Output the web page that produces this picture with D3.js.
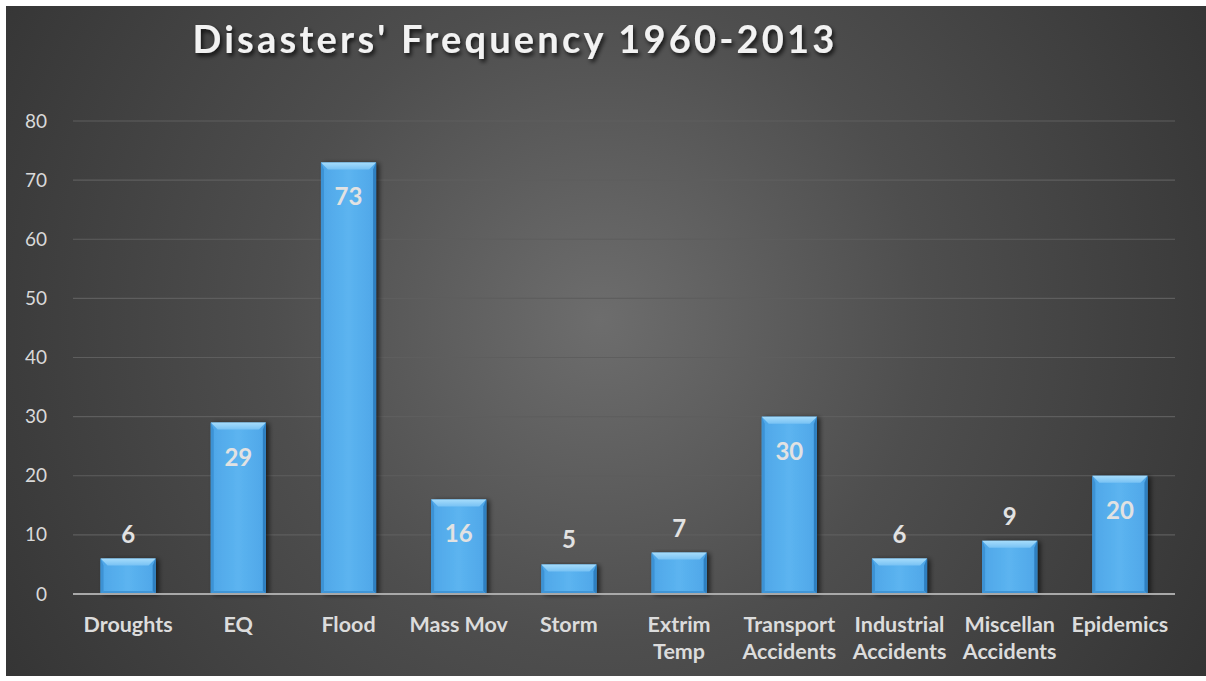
<!DOCTYPE html>
<html>
<head>
<meta charset="utf-8">
<script src="https://cdn.jsdelivr.net/npm/d3@7"></script>
<style>
  html, body { margin: 0; padding: 0; background: #ffffff; }
  svg { display: block; }
  text { font-family: Lato, "Open Sans", sans-serif; }
</style>
</head>
<body>
<svg id="chart" width="1206" height="681"></svg>
<script>
// Disaster counts by type, 1960-2013
const categories = ["Droughts", "EQ", "Flood", "Mass Mov", "Storm", "Extrim Temp",
  "Transport Accidents", "Industrial Accidents", "Miscellan Accidents", "Epidemics"];
const counts = [6, 29, 73, 16, 5, 7, 30, 6, 9, 20];
const yTicks = [0, 10, 20, 30, 40, 50, 60, 70, 80];
const title = "Disasters' Frequency 1960-2013";

const W = 1206, H = 681;
const svg = d3.select("#chart");
const defs = svg.append("defs");

// Chart panel background: soft radial glow on dark grey
const bg = defs.append("radialGradient").attr("id", "bgGrad")
  .attr("gradientUnits", "userSpaceOnUse")
  .attr("cx", 600).attr("cy", 320).attr("r", 720);
bg.append("stop").attr("offset", "0%").attr("stop-color", "#6d6d6d");
bg.append("stop").attr("offset", "45%").attr("stop-color", "#4e4e4e");
bg.append("stop").attr("offset", "100%").attr("stop-color", "#333333");

svg.append("rect").attr("x", 6).attr("y", 6).attr("width", W - 6).attr("height", H - 11)
  .attr("fill", "url(#bgGrad)");

// Bar gradients
const barGrad = defs.append("linearGradient").attr("id", "barGrad")
  .attr("x1", 0).attr("x2", 1).attr("y1", 0).attr("y2", 0);
barGrad.append("stop").attr("offset", "0%").attr("stop-color", "#4ea6e8");
barGrad.append("stop").attr("offset", "50%").attr("stop-color", "#5cb4f0");
barGrad.append("stop").attr("offset", "100%").attr("stop-color", "#4ea6e8");

const bevelGrad = defs.append("linearGradient").attr("id", "bevelGrad")
  .attr("x1", 0).attr("x2", 0).attr("y1", 0).attr("y2", 1);
bevelGrad.append("stop").attr("offset", "0%").attr("stop-color", "#a6dcfb");
bevelGrad.append("stop").attr("offset", "100%").attr("stop-color", "#78c2f4");

const shadow = defs.append("filter").attr("id", "barShadow")
  .attr("x", "-20%").attr("y", "-10%").attr("width", "150%").attr("height", "130%");
shadow.append("feGaussianBlur").attr("in", "SourceAlpha").attr("stdDeviation", 2.5);
shadow.append("feOffset").attr("dx", 3).attr("dy", 1).attr("result", "ob");
shadow.append("feComponentTransfer").append("feFuncA").attr("type", "linear").attr("slope", 0.6);
const m = shadow.append("feMerge");
m.append("feMergeNode");
m.append("feMergeNode").attr("in", "SourceGraphic");

const titleShadow = defs.append("filter").attr("id", "titleShadow")
  .attr("x", "-5%").attr("y", "-30%").attr("width", "110%").attr("height", "160%");
titleShadow.append("feDropShadow").attr("dx", 2).attr("dy", 3).attr("stdDeviation", 2)
  .attr("flood-color", "#000").attr("flood-opacity", 0.75);

// Scales
const x = d3.scaleBand().domain(categories).range([73, 1175])
  .paddingInner(0.5).paddingOuter(0.25);
const y = d3.scaleLinear().domain([0, 80]).range([594, 121]);

// Gridlines
svg.append("g").selectAll("line").data(yTicks.filter(d => d > 0)).join("line")
  .attr("x1", 73).attr("x2", 1175)
  .attr("y1", d => y(d)).attr("y2", d => y(d))
  .attr("stroke", "#5e5e5e").attr("stroke-width", 1.2);

// Y axis labels
const yAxis = svg.append("g").attr("transform", "translate(47,0)")
  .call(d3.axisLeft(y).tickValues(yTicks).tickSize(0).tickPadding(0));
yAxis.select(".domain").remove();
yAxis.selectAll("text")
  .attr("fill", "#d9d9d9").style("font-size", "19px")
  .style("font-family", "Lato, 'Open Sans', sans-serif");

// Bars with bevelled edges
const bars = svg.append("g").selectAll("g").data(categories).join("g")
  .attr("filter", "url(#barShadow)");
const bw = x.bandwidth();
bars.append("rect")
  .attr("x", d => x(d)).attr("y", (d, i) => y(counts[i]))
  .attr("width", bw).attr("height", (d, i) => y(0) - y(counts[i]))
  .attr("fill", "url(#barGrad)");
// top bevel (light)
bars.append("path")
  .attr("d", (d, i) => {
    const x0 = x(d), y0 = y(counts[i]), b = 7;
    return `M${x0},${y0}L${x0 + bw},${y0}L${x0 + bw - b},${y0 + b}L${x0 + b},${y0 + b}Z`;
  })
  .attr("fill", "url(#bevelGrad)");
// left / right bevels (shaded)
bars.append("path")
  .attr("d", (d, i) => {
    const x0 = x(d), y0 = y(counts[i]), y1 = y(0), b = 3;
    return `M${x0},${y0}L${x0 + b},${y0 + 7}L${x0 + b},${y1 - 3}L${x0},${y1}Z`;
  })
  .attr("fill", "#3d92d4");
bars.append("path")
  .attr("d", (d, i) => {
    const x1 = x(d) + bw, y0 = y(counts[i]), y1 = y(0), b = 3;
    return `M${x1},${y0}L${x1 - b},${y0 + 7}L${x1 - b},${y1 - 3}L${x1},${y1}Z`;
  })
  .attr("fill", "#2f7fc0");
// bottom bevel (darker)
bars.append("path")
  .attr("d", (d, i) => {
    const x0 = x(d), y1 = y(0), b = 3;
    return `M${x0},${y1}L${x0 + b},${y1 - b}L${x0 + bw - b},${y1 - b}L${x0 + bw},${y1}Z`;
  })
  .attr("fill", "#3f95d6");

// Baseline
svg.append("line").attr("x1", 73).attr("x2", 1175).attr("y1", y(0)).attr("y2", y(0))
  .attr("stroke", "#a9a9a9").attr("stroke-width", 2);

// Value labels: inside the top of tall bars, above short ones
svg.append("g").selectAll("text").data(categories).join("text")
  .attr("x", d => x(d) + bw / 2)
  .attr("y", (d, i) => counts[i] > 10 ? y(counts[i]) + 43 : y(counts[i]) - 16)
  .attr("text-anchor", "middle")
  .attr("fill", "#e2e2e2")
  .style("font-size", "24px").style("font-weight", "bold")
  .text((d, i) => counts[i]);

// Category labels, wrapped onto two lines when too wide
const catG = svg.append("g").selectAll("text").data(categories).join("text")
  .attr("x", d => x(d) + bw / 2)
  .attr("y", 632)
  .attr("text-anchor", "middle")
  .attr("fill", "#dcdcdc")
  .style("font-size", "21.5px").style("font-weight", "bold");
catG.each(function (d) {
  const t = d3.select(this);
  const words = d.split(" ");
  const lines = [];
  let cur = [];
  words.forEach(w => {
    const test = cur.concat(w).join(" ");
    t.text(test);
    if (cur.length && this.getComputedTextLength() > 108) {
      lines.push(cur.join(" "));
      cur = [w];
    } else {
      cur.push(w);
    }
  });
  lines.push(cur.join(" "));
  t.text(null);
  lines.forEach((l, k) => {
    t.append("tspan").attr("x", x(d) + bw / 2).attr("dy", k === 0 ? 0 : 27).text(l);
  });
});

// Title
svg.append("text")
  .attr("x", 515).attr("y", 53)
  .attr("text-anchor", "middle")
  .attr("fill", "#f2f2f2")
  .attr("filter", "url(#titleShadow)")
  .style("font-size", "38px").style("font-weight", "bold")
  .style("letter-spacing", "3.2px")
  .text(title);
</script>
</body>
</html>
